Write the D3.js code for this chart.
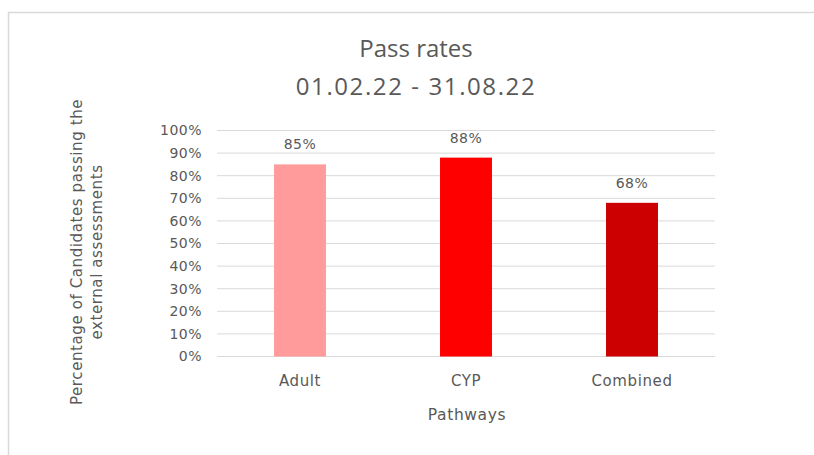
<!DOCTYPE html>
<html>
<head>
<meta charset="utf-8">
<script src="https://cdn.jsdelivr.net/npm/d3@7"></script>
<style>
  body { margin: 0; background: #fff; }
  text { font-family: "DejaVu Sans", sans-serif; fill: #595959; letter-spacing: 0.5px; }
  .title { font-family: "Open Sans", "Noto Sans", sans-serif; letter-spacing: 0; }
</style>
</head>
<body>
<div id="chart"></div>
<script>
var width = 814;
var height = 455;

var pathways = ["Adult", "CYP", "Combined"];
var passRates = [0.85, 0.88, 0.68];
var barColors = ["#ff9b9b", "#ff0000", "#cc0000"];
var yTicks = [0, 0.1, 0.2, 0.3, 0.4, 0.5, 0.6, 0.7, 0.8, 0.9, 1];

var plotLeft = 217;
var plotRight = 715;
var plotTop = 130.5;
var plotBottom = 356.5;

var svg = d3.select("#chart").append("svg")
    .attr("width", width)
    .attr("height", height);

// chart frame
svg.append("rect")
    .attr("x", 8.5).attr("y", 12.5)
    .attr("width", 900).attr("height", 500)
    .attr("fill", "none")
    .attr("stroke", "#d9d9d9")
    .attr("stroke-width", 1.5);

var xScale = d3.scaleBand()
    .domain(pathways)
    .range([plotLeft, plotRight])
    .paddingInner(0.687)
    .paddingOuter(0.3435);

var yScale = d3.scaleLinear()
    .domain([0, 1])
    .range([plotBottom, plotTop]);

// gridlines
svg.append("g")
    .selectAll("line")
    .data(yTicks).enter().append("line")
    .attr("x1", plotLeft).attr("x2", plotRight)
    .attr("y1", function (d) { return yScale(d); })
    .attr("y2", function (d) { return yScale(d); })
    .attr("stroke", "#d9d9d9")
    .attr("stroke-width", 1);

var yAxis = d3.axisLeft(yScale)
    .tickValues(yTicks)
    .tickFormat(d3.format(".0%"))
    .tickSize(0)
    .tickPadding(15);
var yg = svg.append("g")
    .attr("transform", "translate(" + plotLeft + ",0)")
    .call(yAxis);
yg.select(".domain").remove();
yg.selectAll("text")
    .style("font-family", "DejaVu Sans")
    .style("font-size", "14px")
    .attr("fill", "#595959");

var xAxis = d3.axisBottom(xScale).tickSize(0).tickPadding(19);
var xg = svg.append("g")
    .attr("transform", "translate(0," + plotBottom + ")")
    .call(xAxis);
xg.select(".domain").remove();
xg.selectAll("text")
    .style("font-family", "DejaVu Sans")
    .style("font-size", "15px")
    .style("letter-spacing", "0.6px")
    .attr("fill", "#595959");

var data = pathways.map(function (p, i) {
    return {name: p, value: passRates[i], color: barColors[i]};
});

svg.append("g")
    .selectAll("rect")
    .data(data).enter().append("rect")
    .attr("x", function (d) { return xScale(d.name); })
    .attr("y", function (d) { return yScale(d.value); })
    .attr("width", xScale.bandwidth())
    .attr("height", function (d) { return plotBottom - yScale(d.value); })
    .attr("fill", function (d) { return d.color; });

svg.append("g")
    .selectAll("text")
    .data(data).enter().append("text")
    .attr("x", function (d) { return xScale(d.name) + xScale.bandwidth() / 2; })
    .attr("y", function (d) { return yScale(d.value) - 15; })
    .attr("text-anchor", "middle")
    .style("font-size", "14px")
    .text(function (d) { return d3.format(".0%")(d.value); });

// titles
svg.append("text")
    .attr("class", "title")
    .attr("x", 416).attr("y", 57)
    .attr("text-anchor", "middle")
    .style("font-size", "24px")
    .text("Pass rates");
svg.append("text")
    .attr("class", "title")
    .attr("x", 416).attr("y", 95)
    .attr("text-anchor", "middle")
    .style("font-size", "24px")
    .style("letter-spacing", "1.6px")
    .text("01.02.22 - 31.08.22");

svg.append("text")
    .attr("x", 467).attr("y", 420)
    .attr("text-anchor", "middle")
    .style("font-size", "15.5px")
    .style("letter-spacing", "0.6px")
    .text("Pathways");

var yTitle = svg.append("text")
    .attr("transform", "translate(82,252) rotate(-90)")
    .attr("text-anchor", "middle")
    .style("font-size", "15px")
    .style("letter-spacing", "0.6px");
yTitle.append("tspan").attr("x", 0).attr("dy", 0).text("Percentage of Candidates passing the");
yTitle.append("tspan").attr("x", 0).attr("dy", "1.35em").text("external assessments");
</script>
</body>
</html>
